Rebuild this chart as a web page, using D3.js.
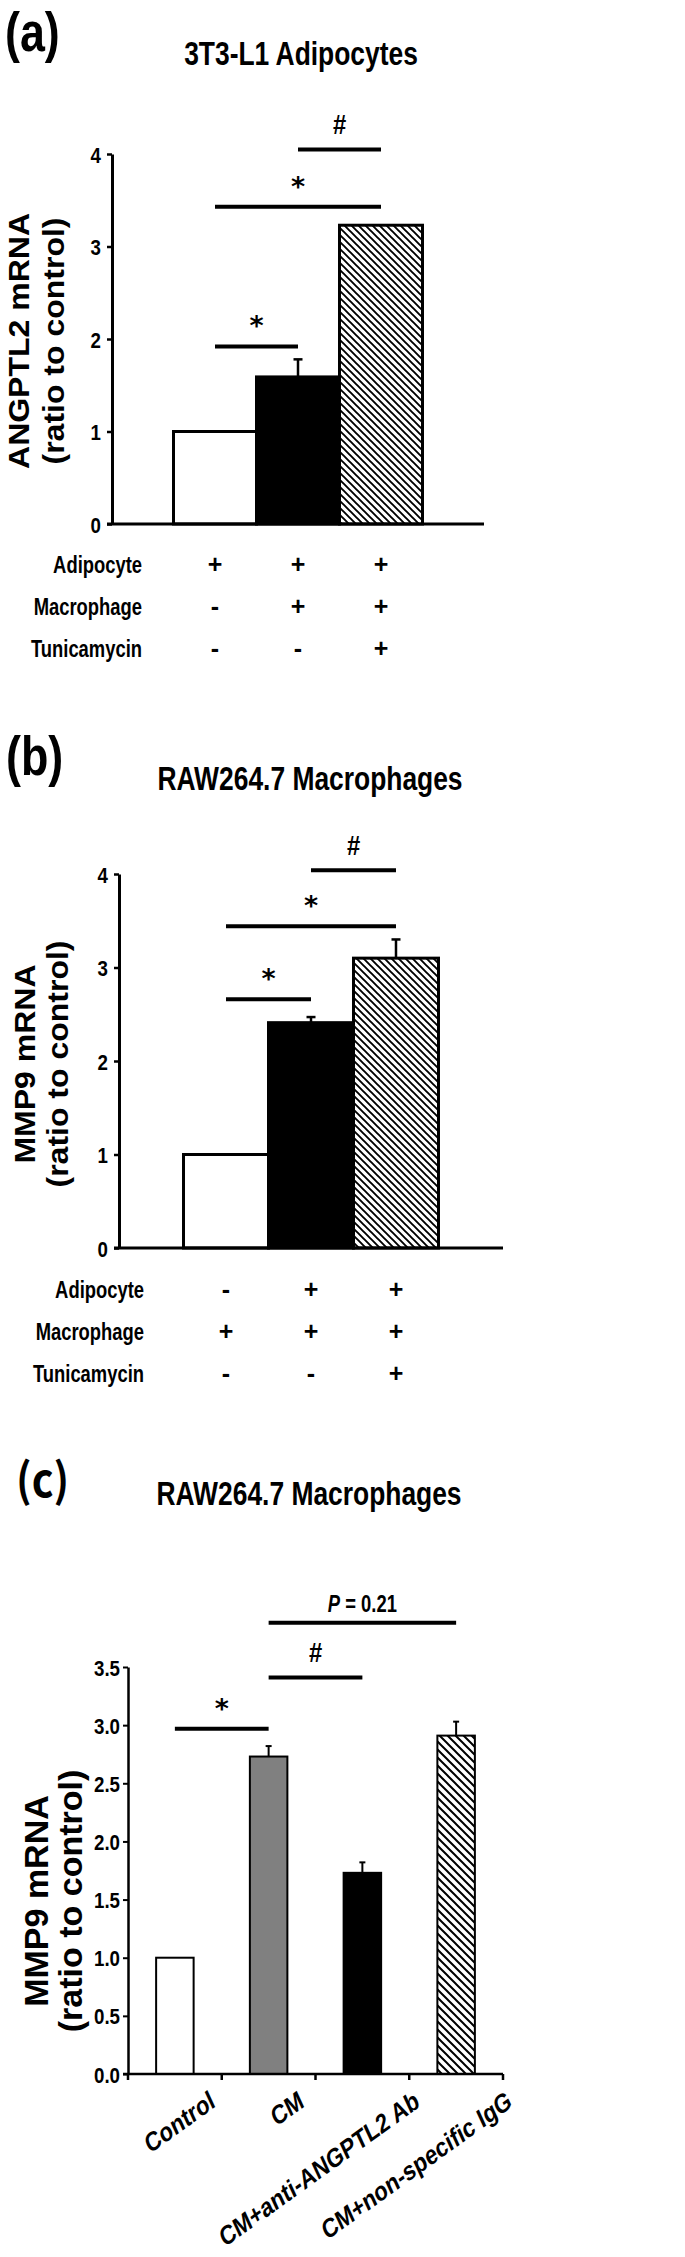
<!DOCTYPE html>
<html><head><meta charset="utf-8">
<script src="https://cdn.jsdelivr.net/npm/d3@7/dist/d3.min.js"></script>
<style>body{margin:0;background:#fff}svg{display:block}</style>
</head><body>
<svg id="fig" width="685" height="2257"></svg>
<script>
// ---------------- DATA ----------------
const panelLetters = ["(a)", "(b)", "(c)"];
const panelTitles = ["3T3-L1 Adipocytes", "RAW264.7 Macrophages", "RAW264.7 Macrophages"];

const yLabelA = ["ANGPTL2 mRNA", "(ratio to control)"];
const yLabelB = ["MMP9 mRNA", "(ratio to control)"];
const yLabelC = ["MMP9 mRNA", "(ratio to control)"];

const groupsA = ["Adipocyte", "Adipocyte+Macrophage", "Adipocyte+Macrophage+Tunicamycin"];
const valuesA = [1.0, 1.59, 3.23];
const errorsA = [0, 0.19, 0];
const ticksA = [0, 1, 2, 3, 4];

const groupsB = ["Macrophage", "Adipocyte+Macrophage", "Adipocyte+Macrophage+Tunicamycin"];
const valuesB = [1.0, 2.41, 3.10];
const errorsB = [0, 0.06, 0.20];
const ticksB = [0, 1, 2, 3, 4];

const rowNames = ["Adipocyte", "Macrophage", "Tunicamycin"];
const treatmentsA = [["+", "+", "+"], ["-", "+", "+"], ["-", "-", "+"]];
const treatmentsB = [["-", "+", "+"], ["+", "+", "+"], ["-", "-", "+"]];

const categoriesC = ["Control", "CM", "CM+anti-ANGPTL2 Ab", "CM+non-specific IgG"];
const valuesC = [1.0, 2.73, 1.73, 2.91];
const errorsC = [0, 0.09, 0.09, 0.12];
const ticksC = [0, 0.5, 1.0, 1.5, 2.0, 2.5, 3.0, 3.5];

// significance brackets: from index, to index, level (data units), label
const sigFromA = [0, 0, 1];
const sigToA = [1, 2, 2];
const sigLevelA = [1.92, 3.43, 4.05];
const sigTextA = ["*", "*", "#"];

const sigFromB = [0, 0, 1];
const sigToB = [1, 2, 2];
const sigLevelB = [2.66, 3.44, 4.04];
const sigTextB = ["*", "*", "#"];

const sigFromC = [0, 1, 1];
const sigToC = [1, 2, 3];
const sigLevelC = [2.97, 3.41, 3.88];
const sigTextC = ["*", "#", "P = 0.21"];

// ---------------- STYLE / LAYOUT ----------------
const FONT = "'Liberation Sans', Arial, Helvetica, sans-serif";
const STAR_FONT = "'DejaVu Sans', sans-serif";
const SX = 0.8; // horizontal compression of the original figure's text
const fillsAB = ["#ffffff", "#000000", "url(#hatch7)"];
const fillsC = ["#ffffff", "#808080", "#000000", "url(#hatch8)"];

const svg = d3.select("#fig");
svg.append("rect").attr("width", 685).attr("height", 2257).attr("fill", "#fff");
const defs = svg.append("defs");
function hatch(id, s, w) {
  const p = defs.append("pattern").attr("id", id).attr("patternUnits", "userSpaceOnUse")
    .attr("width", s).attr("height", s);
  p.append("rect").attr("width", s).attr("height", s).attr("fill", "#fff");
  p.append("path").attr("d", `M-1,-1 L${s + 1},${s + 1} M-1,${s - 1} L1,${s + 1} M${s - 1},-1 L${s + 1},1`)
    .attr("stroke", "#000").attr("stroke-width", w);
}
hatch("hatch7", 7, 1.9);
hatch("hatch8", 8, 2.0);

function text(g, str, x, y, o = {}) {
  const t = g.append("text")
    .attr("transform", `translate(${x},${y}) scale(${o.sx ?? SX},1)` + (o.rotate ? ` rotate(${o.rotate})` : ""))
    .attr("text-anchor", o.anchor || "middle")
    .attr("font-family", o.family || FONT)
    .attr("font-weight", o.weight || "bold")
    .attr("font-size", o.size || 20)
    .attr("fill", "#000");
  if (str !== null) t.text(str);
  return t;
}

function panel(cfg) {
  const g = svg.append("g");
  const y = d3.scaleLinear().domain(cfg.domain).range([cfg.yBot, cfg.yTop]);
  const x = d3.scaleBand().domain(cfg.groups).range([cfg.x0, cfg.x1])
    .paddingInner(cfg.padIn).paddingOuter(cfg.padOut);
  const bw = x.bandwidth();
  const cx = i => x(cfg.groups[i]) + bw / 2;

  // letter + title
  text(g, cfg.letter, cfg.letterX, cfg.letterY, { size: cfg.letterSize, anchor: "start", family: cfg.letterFamily || FONT, sx: cfg.letterSX ?? SX });
  text(g, cfg.title, cfg.titleX, cfg.titleY, { size: 33 });

  // y label (two lines, rotated)
  cfg.yLabel.forEach((s, i) => text(g, s, cfg.yLabelX[i], cfg.yLabelY, { size: cfg.yLabelSize, rotate: -90, sx: 0.95 }));

  // bars
  g.selectAll(".bar").data(cfg.values).join("rect")
    .attr("x", (d, i) => x(cfg.groups[i])).attr("y", d => y(d))
    .attr("width", bw).attr("height", d => y(0) - y(d))
    .attr("fill", (d, i) => cfg.fills[i]).attr("stroke", "#000").attr("stroke-width", cfg.barStroke);

  // error bars
  cfg.values.forEach((v, i) => {
    const e = cfg.errors[i];
    if (!e) return;
    g.append("line").attr("x1", cx(i)).attr("x2", cx(i)).attr("y1", y(v)).attr("y2", y(v + e))
      .attr("stroke", "#000").attr("stroke-width", cfg.errStroke);
    g.append("line").attr("x1", cx(i) - cfg.cap / 2).attr("x2", cx(i) + cfg.cap / 2)
      .attr("y1", y(v + e)).attr("y2", y(v + e)).attr("stroke", "#000").attr("stroke-width", cfg.errStroke);
  });

  // y axis
  const ax = g.append("g").attr("transform", `translate(${cfg.x0},0)`)
    .call(d3.axisLeft(y).tickValues(cfg.ticks).tickSize(cfg.tickLen).tickSizeOuter(0).tickFormat(cfg.fmt));
  ax.select(".domain").attr("stroke-width", cfg.axisStroke);
  ax.selectAll(".tick line").attr("stroke-width", cfg.axisStroke - 0.5);
  ax.selectAll(".tick text").attr("x", null).attr("dy", null)
    .attr("transform", `translate(${-cfg.tickLen - cfg.tickGap},8) scale(0.85,1)`)
    .attr("font-family", FONT).attr("font-weight", "bold").attr("font-size", 22).attr("fill", "#000");

  // x axis line
  g.append("line").attr("x1", cfg.x0 - cfg.tickLen).attr("x2", cfg.x1).attr("y1", y(0)).attr("y2", y(0))
    .attr("stroke", "#000").attr("stroke-width", cfg.axisStroke);

  // significance brackets
  cfg.sigFrom.forEach((f, k) => {
    const yy = y(cfg.sigLevel[k]);
    const xa = cx(f), xb = cx(cfg.sigTo[k]);
    g.append("line").attr("x1", xa).attr("x2", xb).attr("y1", yy).attr("y2", yy)
      .attr("stroke", "#000").attr("stroke-width", cfg.sigStroke);
    const lab = cfg.sigText[k], mx = (xa + xb) / 2;
    if (lab === "*") {
      text(g, "*", mx, yy - 11, { size: 27, family: STAR_FONT, sx: 1 });
    } else if (lab === "#") {
      text(g, "#", mx, yy - 15, { size: 28, sx: 0.85 });
    } else {
      const t = text(g, null, mx, yy - 11, { size: 23 });
      const parts = lab.split(" ");
      t.append("tspan").attr("font-style", "italic").text(parts[0]);
      t.append("tspan").text(" " + parts.slice(1).join(" "));
    }
  });
  return { g, x, y, cx, bw };
}

function rows(p, treatments, baselines, labelRight) {
  rowNames.forEach((r, i) => {
    text(p.g, r, labelRight, baselines[i], { size: 23, anchor: "end" });
    treatments[i].forEach((s, j) => text(p.g, s, p.cx(j), baselines[i], { size: 25, sx: 1 }));
  });
}

// ---------------- PANEL (a) ----------------
const pA = panel({
  letter: panelLetters[0], letterX: 5, letterY: 51, letterSize: 56,
  title: panelTitles[0], titleX: 301, titleY: 65,
  yLabel: yLabelA, yLabelX: [29, 64], yLabelY: 341, yLabelSize: 32,
  domain: [0, 4], yTop: 154, yBot: 524, x0: 112, x1: 484, padIn: 0, padOut: 0.741,
  groups: groupsA, values: valuesA, errors: errorsA, fills: fillsAB, ticks: ticksA, fmt: d3.format("d"),
  barStroke: 3, errStroke: 2.5, cap: 9, axisStroke: 3, tickLen: 5, tickGap: 6, sigStroke: 4,
  sigFrom: sigFromA, sigTo: sigToA, sigLevel: sigLevelA, sigText: sigTextA
});
rows(pA, treatmentsA, [573, 615, 657], 142);

// ---------------- PANEL (b) ----------------
const pB = panel({
  letter: panelLetters[1], letterX: 6, letterY: 775, letterSize: 56,
  title: panelTitles[1], titleX: 310, titleY: 790,
  yLabel: yLabelB, yLabelX: [35, 68], yLabelY: 1064, yLabelSize: 32,
  domain: [0, 4], yTop: 874, yBot: 1248, x0: 119, x1: 503, padIn: 0, padOut: 0.759,
  groups: groupsB, values: valuesB, errors: errorsB, fills: fillsAB, ticks: ticksB, fmt: d3.format("d"),
  barStroke: 3, errStroke: 2.5, cap: 9, axisStroke: 3, tickLen: 5, tickGap: 6, sigStroke: 4,
  sigFrom: sigFromB, sigTo: sigToB, sigLevel: sigLevelB, sigText: sigTextB
});
rows(pB, treatmentsB, [1298, 1340, 1382], 144);

// ---------------- PANEL (c) ----------------
const pC = panel({
  letter: panelLetters[2], letterX: 16, letterY: 1497, letterSize: 46,
  letterFamily: "'Noto Sans CJK KR','Noto Sans',sans-serif", letterSX: 0.9,
  title: panelTitles[2], titleX: 309, titleY: 1505,
  yLabel: yLabelC, yLabelX: [48, 82], yLabelY: 1901, yLabelSize: 34,
  domain: [0, 3.5], yTop: 1667, yBot: 2074, x0: 128, x1: 503, padIn: 0.6, padOut: 0.3,
  groups: categoriesC, values: valuesC, errors: errorsC, fills: fillsC, ticks: ticksC, fmt: d3.format(".1f"),
  barStroke: 2, errStroke: 2, cap: 6, axisStroke: 2.5, tickLen: 5, tickGap: 3, sigStroke: 4,
  sigFrom: sigFromC, sigTo: sigToC, sigLevel: sigLevelC, sigText: sigTextC
});
// category boundary ticks on x axis and rotated category labels
{
  const step = pC.x.step();
  const bounds = categoriesC.map(c => pC.x(c) - step * pC.x.paddingInner() / 2).concat([503]);
  bounds.forEach(b => pC.g.append("line").attr("x1", b).attr("x2", b)
    .attr("y1", pC.y(0)).attr("y2", pC.y(0) + 6).attr("stroke", "#000").attr("stroke-width", 2.5));
  categoriesC.forEach((c, i) => {
    const t = text(pC.g, c, 0, 0, { size: 27, anchor: "end", rotate: -30 });
    const len = t.node().getComputedTextLength();
    t.attr("transform", `translate(${pC.cx(i) + 33 + 0.09 * len},2106) scale(${SX},1) rotate(-30)`);
  });
}
</script>
</body></html>
